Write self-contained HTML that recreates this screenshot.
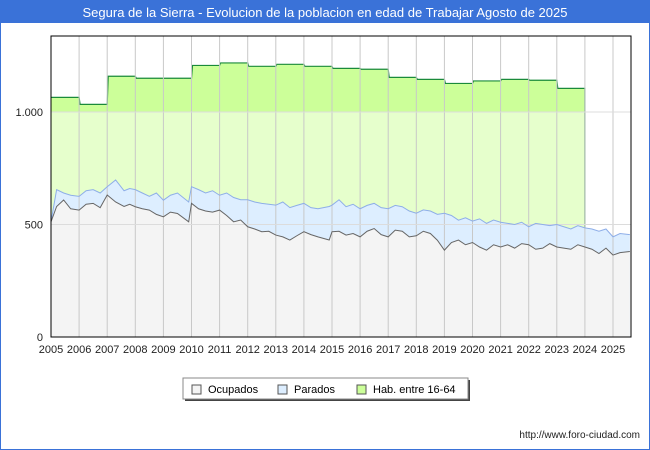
<!DOCTYPE html>
<html><head><meta charset="utf-8"><style>
body{margin:0;background:#fff;font-family:"Liberation Sans","DejaVu Sans",sans-serif}
#wrap{position:relative;width:648px;height:448px;border:1px solid #3a72d8;overflow:hidden}
</style></head><body>
<div id="wrap">
<svg id="c" width="648" height="448" xmlns="http://www.w3.org/2000/svg">
<rect x="0" y="0" width="648" height="22" fill="#3a72d8"/>
<text x="324" y="16" text-anchor="middle" fill="#fff" font-size="13">Segura de la Sierra - Evolucion de la poblacion en edad de Trabajar Agosto de 2025</text>
<g id="plot"></g>
<g>
<rect x="184" y="379" width="285" height="21" fill="#444"/>
<rect x="182" y="377" width="285" height="21" fill="#fff" stroke="#888"/>
<g><rect x="191" y="384" width="9" height="9" fill="#f4f4f4" stroke="#555"/><text x="207" y="392" font-size="11">Ocupados</text></g>
<g><rect x="277" y="384" width="9" height="9" fill="#ddeeff" stroke="#555"/><text x="293" y="392" font-size="11">Parados</text></g>
<g><rect x="356" y="384" width="9" height="9" fill="#ccff99" stroke="#555"/><text x="372" y="392" font-size="11">Hab. entre 16-64</text></g>
</g>
<text x="639" y="437" text-anchor="end" font-size="10" fill="#222">http://www.foro-ciudad.com</text>
</svg>
</div>
<script>
const habYears=[2005,2006,2007,2008,2009,2010,2011,2012,2013,2014,2015,2016,2017,2018,2019,2020,2021,2022,2023];
const habValues=[1065,1034,1159,1150,1150,1207,1218,1203,1212,1203,1194,1190,1154,1145,1127,1138,1145,1141,1105];
const times=[2005.0,2005.2,2005.45,2005.7,2006.0,2006.25,2006.5,2006.75,2007.0,2007.3,2007.6,2007.8,2008.0,2008.25,2008.5,2008.75,2009.0,2009.25,2009.5,2009.9,2010.0,2010.25,2010.5,2010.75,2011.0,2011.25,2011.5,2011.75,2012.0,2012.25,2012.5,2012.75,2013.0,2013.25,2013.5,2013.75,2014.0,2014.25,2014.5,2014.9,2015.0,2015.25,2015.5,2015.75,2016.0,2016.25,2016.5,2016.75,2017.0,2017.25,2017.5,2017.75,2018.0,2018.25,2018.5,2018.75,2019.0,2019.25,2019.5,2019.75,2020.0,2020.25,2020.5,2020.75,2021.0,2021.25,2021.5,2021.75,2022.0,2022.25,2022.5,2022.75,2023.0,2023.25,2023.5,2023.75,2024.0,2024.25,2024.5,2024.75,2025.0,2025.25,2025.6];
const totalValues=[512,655,640,630,625,650,655,640,668,698,650,660,655,640,625,640,608,630,640,600,668,655,640,650,630,640,620,610,610,600,594,590,586,600,575,585,594,575,570,580,586,610,579,590,570,585,594,575,570,585,579,560,550,565,560,545,550,540,519,530,515,525,505,520,510,505,500,510,490,505,500,495,500,490,480,495,485,480,470,480,445,460,455];
const occValues=[512,580,609,570,564,590,594,575,631,600,580,590,579,570,564,545,534,555,549,512,594,570,560,555,564,540,512,520,490,480,468,470,453,445,431,450,468,455,445,431,468,470,453,460,445,470,482,455,445,475,470,445,450,470,460,430,386,420,431,410,420,400,386,410,400,410,395,415,410,390,395,415,400,395,390,410,400,390,371,395,364,375,380];
const yTicks=[0,500,1000];const yLabels=["0","500","1.000"];
const xTicks=[2005,2006,2007,2008,2009,2010,2011,2012,2013,2014,2015,2016,2017,2018,2019,2020,2021,2022,2023,2024,2025];
const L=50,R=630,T=35,B=336,X0=2005,XW=28.1;
const x=v=>L+(v-X0)*XW, y=v=>B-v*0.225;
const NS="http://www.w3.org/2000/svg",g=document.getElementById('plot');
function mk(t,a,p){const e=document.createElementNS(NS,t);for(const k in a)e.setAttribute(k,a[k]);(p||g).appendChild(e);return e;}
mk('rect',{x:L,y:T,width:R-L,height:B-T,fill:'#fff'});
// hab area
let hp=`M${x(habYears[0])},${y(0)}`;
habYears.forEach((yr,i)=>{hp+=` L${x(yr)+(i?1:0)},${y(habValues[i])} L${x(yr+1)},${y(habValues[i])}`;});
hp+=` L${x(habYears[habYears.length-1]+1)},${y(0)} Z`;
const ha=mk('path',{d:hp,fill:'#e6ffcc'});


const cp=mk('clipPath',{id:'top'});mk('rect',{x:L,y:T,width:R-L,height:y(1000)-T},cp);
mk('path',{d:hp,fill:'#ccff99','clip-path':'url(#top)'});
let hl='';habYears.forEach((yr,i)=>{hl+=(i?' L':'M')+`${x(yr)+(i?1:0)},${y(habValues[i])} L${x(yr+1)},${y(habValues[i])}`;});
hl+=` L${x(habYears[habYears.length-1]+1)},${y(0)}`;
const hline=mk('path',{d:hl,fill:'none',stroke:'#1a8a3a','stroke-width':1.2});


function line(vals){return times.map((t,i)=>(i?'L':'M')+x(t)+','+y(vals[i])).join(' ');}
const tEnd=times[times.length-1];
const ta=mk('path',{d:line(totalValues)+` L${x(tEnd)},${y(0)} L${x(times[0])},${y(0)} Z`,fill:'#ddeeff'});


const oa=mk('path',{d:line(occValues)+` L${x(tEnd)},${y(0)} L${x(times[0])},${y(0)} Z`,fill:'#f4f4f4'});


// grid
xTicks.forEach((v,i)=>{if(i)mk('line',{x1:x(v),x2:x(v),y1:T,y2:B,stroke:'#c8c8c8'});
const tx=mk('text',{x:x(v),y:B+16,'text-anchor':'middle','font-size':11,fill:'#222'});tx.textContent=v;

});
yTicks.forEach((v,i)=>{if(v)mk('line',{x1:L,x2:R,y1:y(v),y2:y(v),stroke:'#dcdcdc'});
const tx=mk('text',{x:42,y:y(v)+4,'text-anchor':'end','font-size':11,fill:'#222'});tx.textContent=yLabels[i];

});
const tl=mk('path',{d:line(totalValues),fill:'none',stroke:'#8eaee8','stroke-width':1});


const ol=mk('path',{d:line(occValues),fill:'none',stroke:'#666','stroke-width':1});


mk('rect',{x:L,y:T,width:R-L,height:B-T,fill:'none',stroke:'#000','stroke-width':1});
</script>
</body></html>
